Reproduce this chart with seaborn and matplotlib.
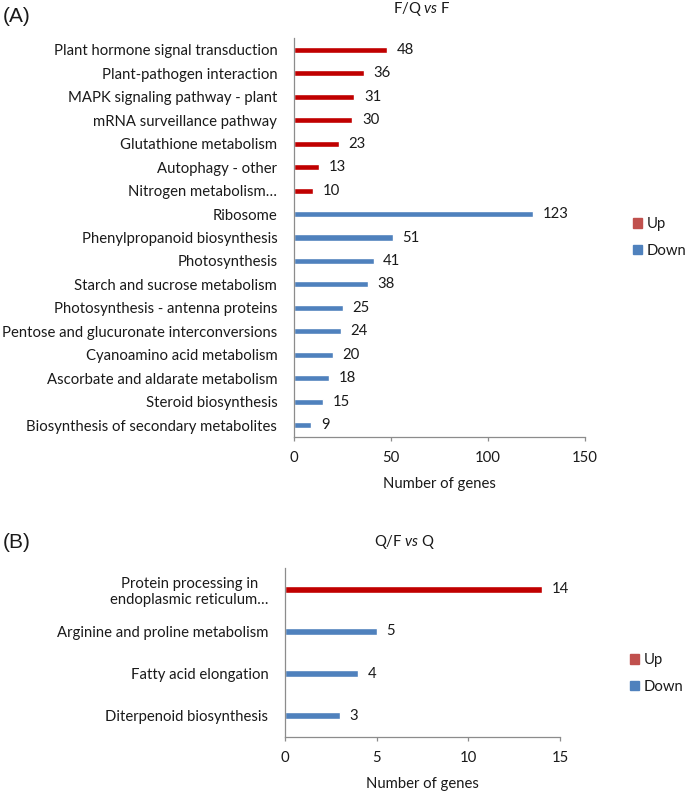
import pandas as pd
import matplotlib
matplotlib.use("Agg")
import matplotlib.pyplot as plt
from matplotlib.patches import Patch
import seaborn as sns

# panel A: F/Q vs F
pathways_a = [
    "Plant hormone signal transduction",
    "Plant-pathogen interaction",
    "MAPK signaling pathway - plant",
    "mRNA surveillance pathway",
    "Glutathione metabolism",
    "Autophagy - other",
    "Nitrogen metabolism…",
    "Ribosome",
    "Phenylpropanoid biosynthesis",
    "Photosynthesis",
    "Starch and sucrose metabolism",
    "Photosynthesis - antenna proteins",
    "Pentose and glucuronate interconversions",
    "Cyanoamino acid metabolism",
    "Ascorbate and aldarate metabolism",
    "Steroid biosynthesis",
    "Biosynthesis of secondary metabolites",
]
genes_a = [48, 36, 31, 30, 23, 13, 10, 123, 51, 41, 38, 25, 24, 20, 18, 15, 9]
regulation_a = ["Up"] * 7 + ["Down"] * 10

# panel B: Q/F vs Q
pathways_b = [
    "Protein processing in\nendoplasmic reticulum…",
    "Arginine and proline metabolism",
    "Fatty acid elongation",
    "Diterpenoid biosynthesis",
]
genes_b = [14, 5, 4, 3]
regulation_b = ["Up", "Down", "Down", "Down"]

sns.set_theme(style="white")
plt.rcParams["font.family"] = ["Lato", "DejaVu Sans"]
plt.rcParams["mathtext.fontset"] = "custom"
plt.rcParams["mathtext.it"] = "Lato:italic"
plt.rcParams["mathtext.rm"] = "Lato"
plt.rcParams["text.color"] = "#1a1a1a"

bar_colors = {"Up": "#C00000", "Down": "#4F81BD"}
legend_colors = {"Up": "#C0504D", "Down": "#4F81BD"}
axis_gray = "#8C8C8C"
fs = 10.7


def draw_panel(ax, names, values, reg, xmax, step, bar_w):
    df = pd.DataFrame({"pathway": names, "genes": values, "reg": reg})
    sns.barplot(data=df, y="pathway", x="genes", hue="reg", palette=bar_colors,
                dodge=False, width=bar_w, legend=False, ax=ax, saturation=1)
    for c in ax.containers:
        ax.bar_label(c, padding=7, fontsize=fs, color="#1a1a1a")
    ax.set_xlim(0, xmax)
    ax.set_xticks(range(0, xmax + 1, step))
    ax.set_ylabel("")
    ax.set_xlabel("Number of genes", fontsize=fs, labelpad=9, color="#1a1a1a")
    for s in ["top", "right"]:
        ax.spines[s].set_visible(False)
    for s in ["left", "bottom"]:
        ax.spines[s].set_color(axis_gray)
        ax.spines[s].set_linewidth(0.9)
    ax.tick_params(axis="x", bottom=True, length=3, width=0.9, color=axis_gray,
                   labelsize=fs, pad=7, labelcolor="#1a1a1a")
    ax.tick_params(axis="y", left=False, labelsize=fs, pad=6, labelcolor="#1a1a1a")
    for lab in ax.get_yticklabels():
        lab.set_multialignment("center")


fig = plt.figure(figsize=(6.85, 7.94), dpi=100)
ax_a = fig.add_axes([294 / 685, 1 - 437 / 794, (585 - 294) / 685, (437 - 38) / 794])
ax_b = fig.add_axes([285 / 685, 1 - 737 / 794, (560 - 285) / 685, (737 - 568) / 794])

draw_panel(ax_a, pathways_a, genes_a, regulation_a, 150, 50, 0.26)
draw_panel(ax_b, pathways_b, genes_b, regulation_b, 15, 5, 0.17)

fig.text(422 / 685, 1 - 9 / 794, r"F/Q $\it{vs}$ F", ha="center", va="center", fontsize=fs)
fig.text(405 / 685, 1 - 542 / 794, r"Q/F $\it{vs}$ Q", ha="center", va="center", fontsize=fs)
fig.text(3 / 685, 1 - 16 / 794, "(A)", ha="left", va="center", fontsize=15,
         family="Liberation Sans")
fig.text(3 / 685, 1 - 542 / 794, "(B)", ha="left", va="center", fontsize=15,
         family="Liberation Sans")

handles = [Patch(color=legend_colors[k], label=k) for k in ["Up", "Down"]]
for x, y in [(633, 217), (630, 653)]:
    fig.legend(handles=handles, loc="upper left", bbox_to_anchor=(x / 685, 1 - y / 794),
               frameon=False, fontsize=fs, handlelength=0.62, handleheight=0.62,
               handletextpad=0.3, labelspacing=0.85, borderaxespad=0, borderpad=0)

fig.savefig("out.png", dpi=100)
